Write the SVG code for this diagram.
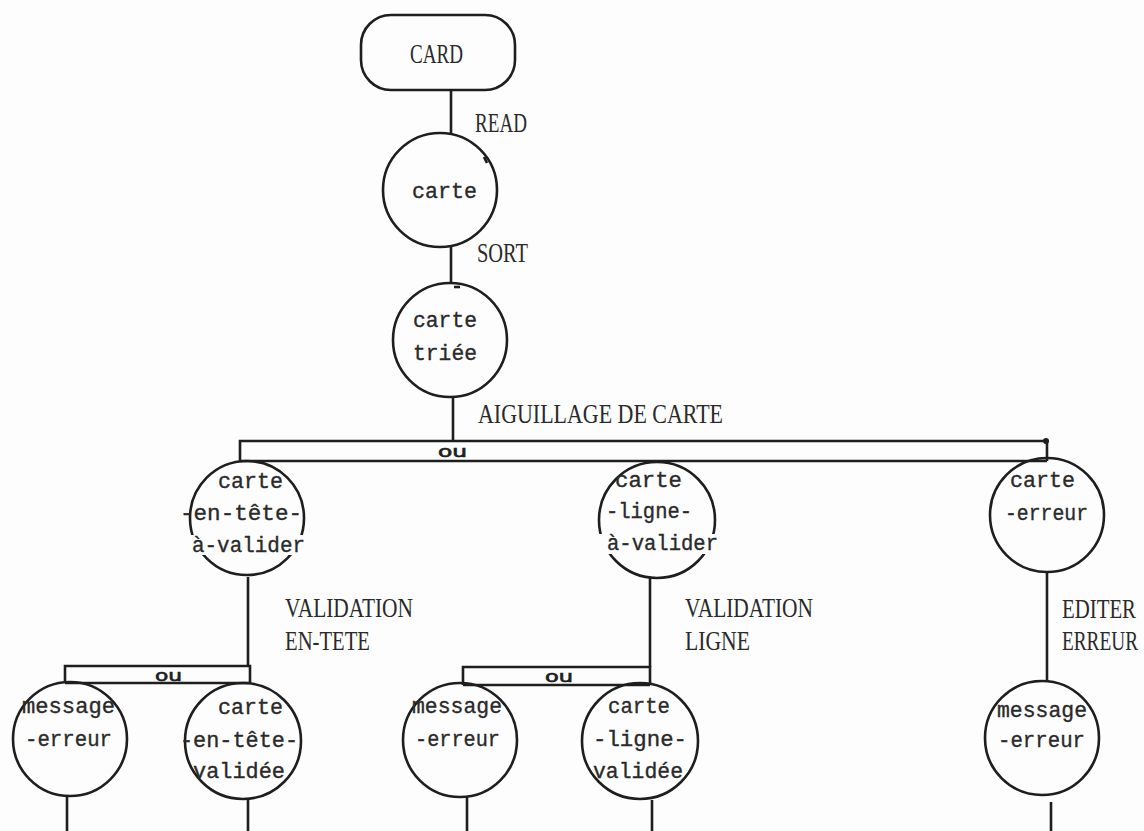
<svg xmlns="http://www.w3.org/2000/svg" width="1144" height="831" viewBox="0 0 1144 831">
<style>
  .ln{fill:none;stroke:#1e1e1e;stroke-width:2.6;stroke-linecap:butt}
  .nd{fill:none;stroke:#1e1e1e;stroke-width:2.6}
  .lb{font-family:"Liberation Mono","Courier New",monospace;font-size:22px;fill:#2a2a2a;stroke:#2a2a2a;stroke-width:0.35}
  .up{font-family:"Liberation Serif","Times New Roman",serif;font-size:28px;fill:#2a2a2a}
  .up2{font-family:"Liberation Serif","Times New Roman",serif;font-size:20px;fill:#2a2a2a}
  .ou{font-family:"DejaVu Sans",sans-serif;font-size:16px;fill:#1e1e1e;stroke:#1e1e1e;stroke-width:0.7}
  .gap{fill:#fdfdfd}
</style>
<rect x="0" y="0" width="1144" height="831" fill="#fdfdfd"/>

<g id="connectors">
  <line class="ln" x1="451" y1="90" x2="451" y2="133"/>
  <line class="ln" x1="451" y1="247" x2="451" y2="283"/>
  <line class="ln" x1="453" y1="397" x2="453" y2="441"/>
  <path class="ln" d="M240,461 V441 H1047 V461 M240,461 H1047"/>
  <circle cx="1046" cy="441" r="3" fill="#1e1e1e"/>
  <line class="ln" x1="248" y1="577" x2="248" y2="666"/>
  <path class="ln" d="M65,683 V666 H250 V683 M65,683 H250"/>
  <line class="ln" x1="67" y1="797" x2="67" y2="831"/>
  <line class="ln" x1="248" y1="800" x2="248" y2="831"/>
  <line class="ln" x1="650" y1="578" x2="650" y2="667"/>
  <path class="ln" d="M463,685 V667 H650 V685 M463,685 H650"/>
  <line class="ln" x1="467" y1="797" x2="467" y2="831"/>
  <line class="ln" x1="652" y1="800" x2="652" y2="831"/>
  <line class="ln" x1="1047" y1="573" x2="1047" y2="682"/>
  <line class="ln" x1="1051" y1="802" x2="1051" y2="831"/>
  <text class="ou" x="438" y="457" textLength="29" lengthAdjust="spacingAndGlyphs">ou</text>
  <text class="ou" x="155" y="681" textLength="27" lengthAdjust="spacingAndGlyphs">ou</text>
  <text class="ou" x="545" y="682" textLength="28" lengthAdjust="spacingAndGlyphs">ou</text>
  <text class="up" x="475" y="132" textLength="52" lengthAdjust="spacingAndGlyphs">READ</text>
  <text class="up" x="477" y="262" textLength="51" lengthAdjust="spacingAndGlyphs">SORT</text>
  <text class="up" x="478" y="423" textLength="245" lengthAdjust="spacingAndGlyphs">AIGUILLAGE DE CARTE</text>
  <text class="up" x="285" y="617" textLength="128" lengthAdjust="spacingAndGlyphs">VALIDATION</text>
  <text class="up" x="285" y="650" textLength="85" lengthAdjust="spacingAndGlyphs">EN-TETE</text>
  <text class="up" x="685" y="617" textLength="128" lengthAdjust="spacingAndGlyphs">VALIDATION</text>
  <text class="up" x="685" y="650" textLength="65" lengthAdjust="spacingAndGlyphs">LIGNE</text>
  <text class="up2" transform="translate(1062,618) scale(1,1.4)" x="0" y="0" textLength="74" lengthAdjust="spacingAndGlyphs">EDITER</text>
  <text class="up2" transform="translate(1062,650) scale(1,1.4)" x="0" y="0" textLength="76" lengthAdjust="spacingAndGlyphs">ERREUR</text>
</g>

<g id="card">
  <rect class="nd" x="361" y="15" width="154" height="75" rx="30" ry="30"/>
  <text class="up" x="410" y="63" textLength="53" lengthAdjust="spacingAndGlyphs">CARD</text>
</g>

<g id="carte">
  <circle class="nd" cx="440" cy="190" r="57"/>
  <path class="ln" d="M484,157 L487,163" stroke-width="1.6"/>
  <text class="lb" x="412" y="198" textLength="65" lengthAdjust="spacingAndGlyphs">carte</text>
</g>

<g id="carte-triee">
  <circle class="nd" cx="450" cy="340" r="57"/>
  <path class="ln" d="M454,287 L460,287" stroke-width="1.6"/>
  <text class="lb" x="413" y="327" textLength="64" lengthAdjust="spacingAndGlyphs">carte</text>
  <text class="lb" x="413" y="360" textLength="64" lengthAdjust="spacingAndGlyphs">triée</text>
</g>

<g id="carte-en-tete-a-valider">
  <circle class="nd" cx="247" cy="518" r="57"/>
  <rect class="gap" x="189" y="535" width="120" height="20"/>
  <text class="lb" x="218" y="488" textLength="65" lengthAdjust="spacingAndGlyphs">carte</text>
  <text class="lb" x="180" y="520" textLength="122" lengthAdjust="spacingAndGlyphs">-en-tête-</text>
  <text class="lb" x="192" y="552" textLength="113" lengthAdjust="spacingAndGlyphs">à-valider</text>
</g>

<g id="carte-ligne-a-valider">
  <circle class="nd" cx="657" cy="520" r="58"/>
  <rect class="gap" x="597" y="534" width="124" height="20"/>
  <text class="lb" x="615" y="487" textLength="67" lengthAdjust="spacingAndGlyphs">carte</text>
  <text class="lb" x="606" y="518" textLength="86" lengthAdjust="spacingAndGlyphs">-ligne-</text>
  <text class="lb" x="607" y="550" textLength="111" lengthAdjust="spacingAndGlyphs">à-valider</text>
</g>

<g id="carte-erreur">
  <circle class="nd" cx="1047" cy="515" r="57"/>
  <text class="lb" x="1010" y="487" textLength="65" lengthAdjust="spacingAndGlyphs">carte</text>
  <text class="lb" x="1005" y="520" textLength="83" lengthAdjust="spacingAndGlyphs">-erreur</text>
</g>

<g id="message-erreur-1">
  <circle class="nd" cx="70" cy="739" r="57"/>
  <text class="lb" x="22" y="713" textLength="93" lengthAdjust="spacingAndGlyphs">message</text>
  <text class="lb" x="25" y="746" textLength="87" lengthAdjust="spacingAndGlyphs">-erreur</text>
</g>

<g id="carte-en-tete-validee">
  <circle class="nd" cx="243" cy="741" r="58"/>
  <text class="lb" x="218" y="714" textLength="65" lengthAdjust="spacingAndGlyphs">carte</text>
  <text class="lb" x="180" y="747" textLength="118" lengthAdjust="spacingAndGlyphs">-en-tête-</text>
  <text class="lb" x="193" y="778" textLength="92" lengthAdjust="spacingAndGlyphs">validée</text>
</g>

<g id="message-erreur-2">
  <circle class="nd" cx="460" cy="740" r="57"/>
  <text class="lb" x="412" y="713" textLength="90" lengthAdjust="spacingAndGlyphs">message</text>
  <text class="lb" x="415" y="746" textLength="85" lengthAdjust="spacingAndGlyphs">-erreur</text>
</g>

<g id="carte-ligne-validee">
  <circle class="nd" cx="640" cy="741" r="58"/>
  <text class="lb" x="608" y="713" textLength="62" lengthAdjust="spacingAndGlyphs">carte</text>
  <text class="lb" x="593" y="746" textLength="94" lengthAdjust="spacingAndGlyphs">-ligne-</text>
  <text class="lb" x="593" y="778" textLength="90" lengthAdjust="spacingAndGlyphs">validée</text>
</g>

<g id="message-erreur-3">
  <circle class="nd" cx="1042" cy="738" r="57"/>
  <text class="lb" x="997" y="717" textLength="90" lengthAdjust="spacingAndGlyphs">message</text>
  <text class="lb" x="998" y="747" textLength="87" lengthAdjust="spacingAndGlyphs">-erreur</text>
</g>
</svg>
